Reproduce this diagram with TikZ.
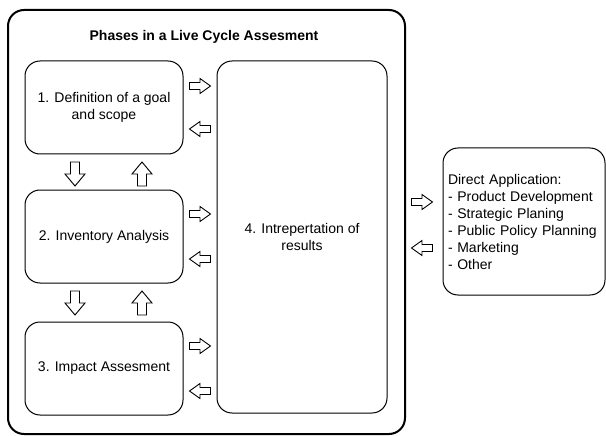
\documentclass[tikz,border=0pt]{standalone}
\usepackage{fontspec}
\setmainfont{Liberation Sans}
\begin{document}
\begin{tikzpicture}[x=1pt,y=-1pt,
  phase/.style={draw, line width=1pt, rounded corners=15pt, align=center, inner sep=0pt,
    font=\fontsize{14}{17}\selectfont},
  outerbox/.style={draw, line width=2pt, rounded corners=16pt},
  barrow/.pic={\draw[line width=0.9pt, line join=miter] (-10.5,-3.5) -- (0,-3.5) -- (0,-7.5) -- (10.5,0) -- (0,7.5) -- (0,3.5) -- (-10.5,3.5) -- cycle;},
  varrow/.pic={\draw[line width=0.9pt, line join=miter] (-12,-4.5) -- (0,-4.5) -- (0,-10) -- (12,0) -- (0,10) -- (0,4.5) -- (-12,4.5) -- cycle;}
]
\useasboundingbox (0,0) rectangle (606,436);
\node[outerbox, minimum width=397pt, minimum height=424pt] (outer) at (206.5,222) {};
\node[font=\bfseries\fontsize{14}{17}\selectfont] (title) at (204,37) {Phases in a Live Cycle Assesment};
\node[phase, minimum width=158pt, minimum height=93pt] (p1) at (104,107.5) {1. Definition of a goal\\and scope};
\node[phase, minimum width=158pt, minimum height=93pt] (p2) at (104,236.5) {2. Inventory Analysis};
\node[phase, minimum width=158pt, minimum height=93pt] (p3) at (104,368.5) {3. Impact Assesment};
\node[phase, minimum width=170pt, minimum height=352pt] (p4) at (302,237) {4. Intrepertation of\\results};
\node[phase, align=left, text width=152pt, minimum width=162pt, minimum height=147pt] (app) at (524,221.5) {Direct Application:\\- Product Development\\- Strategic Planing\\- Public Policy Planning\\- Marketing\\- Other};
% horizontal block arrows
\pic at (200,86) {barrow};
\pic[rotate=180] at (200,129) {barrow};
\pic at (200,214) {barrow};
\pic[rotate=180] at (200,259) {barrow};
\pic at (200,346) {barrow};
\pic[rotate=180] at (200,391) {barrow};
\pic at (422,202) {barrow};
\pic[rotate=180] at (422,248) {barrow};
% vertical block arrows
\pic[rotate=-90] at (75,174) {varrow};
\pic[rotate=90] at (142,174) {varrow};
\pic[rotate=-90] at (75,303) {varrow};
\pic[rotate=90] at (142,303) {varrow};
\end{tikzpicture}
\end{document}
